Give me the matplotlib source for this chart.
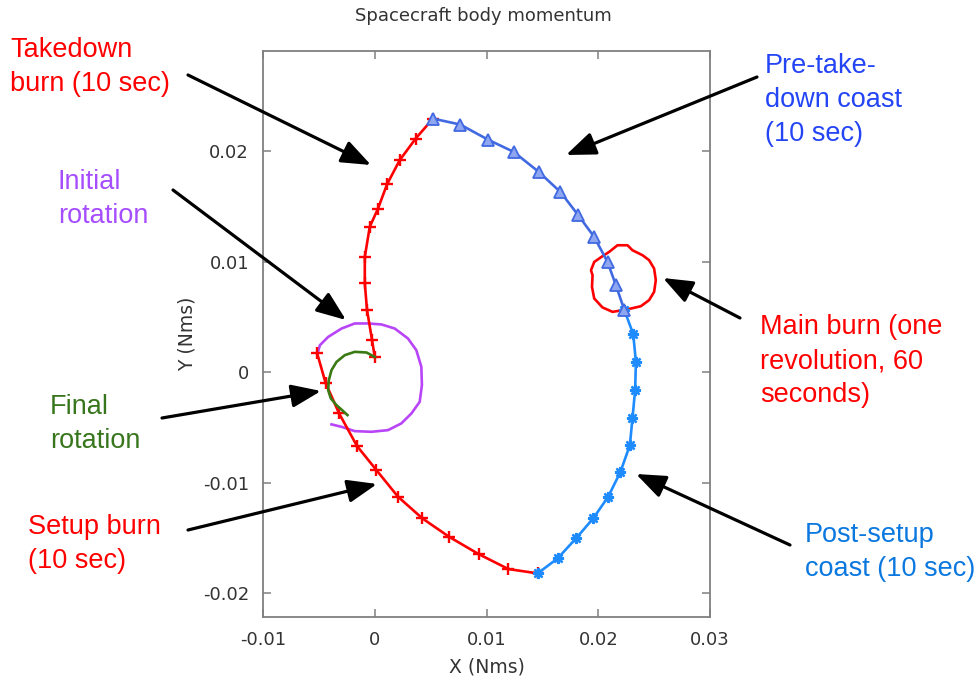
import matplotlib
matplotlib.use("Agg")
import matplotlib.pyplot as plt
from matplotlib.ticker import FixedLocator, FixedFormatter

plt.rcParams['axes.unicode_minus'] = False

# ---- data (Nms) ----
# initial rotation (purple)
init_x = [-0.00387, -0.00297, -0.00179, -0.00029, 0.00119, 0.00238, 0.00328, 0.00402, 0.00422, 0.00417,
          0.00372, 0.00297, 0.00179, 0.0006, -0.0006, -0.00179, -0.00297, -0.00417, -0.00491, -0.00512]
init_y = [-0.00473, -0.00495, -0.00534, -0.0054, -0.00525, -0.00464, -0.00374, -0.00269, -0.00118, 0.00048,
          0.00199, 0.00305, 0.00395, 0.00432, 0.00441, 0.00441, 0.00395, 0.00319, 0.00244, 0.00169]

# setup burn (red +)
setup_x = [-0.00515, -0.0044, -0.00319, -0.00158, 0.00015, 0.00208, 0.00426, 0.00664, 0.00929, 0.01196, 0.01458]
setup_y = [0.00169, -0.00097, -0.00374, -0.0067, -0.00887, -0.01128, -0.01324, -0.0149, -0.01647, -0.01783, -0.01822]

# post-setup coast (blue asterisks)
post_x = [0.01458, 0.01637, 0.01801, 0.01955, 0.02089, 0.02199, 0.02283, 0.02306, 0.0233, 0.02337, 0.02313, 0.02232]
post_y = [-0.01822, -0.01686, -0.01505, -0.01324, -0.01128, -0.00902, -0.00661, -0.00419, -0.00163, 0.00093, 0.00344, 0.00567]

# main burn (red loop)
main_x = [0.02232, 0.02217, 0.02128, 0.02038, 0.01964, 0.01944, 0.01949, 0.01935, 0.01964, 0.02038, 0.02098, 0.02172,
          0.02262, 0.02306, 0.02396, 0.02455, 0.025, 0.02515, 0.025, 0.02455, 0.02381, 0.02292, 0.02232]
main_y = [0.00567, 0.00561, 0.00546, 0.00586, 0.00667, 0.00772, 0.00878, 0.00923, 0.00998, 0.0105, 0.01089, 0.01149,
          0.01149, 0.01104, 0.01059, 0.01014, 0.00938, 0.00833, 0.00727, 0.00652, 0.00597, 0.00576, 0.00567]

# pre-takedown coast (blue triangles)
pre_x = [0.02232, 0.02158, 0.02083, 0.01964, 0.01821, 0.01661, 0.01467, 0.01244, 0.01012, 0.00765, 0.00521]
pre_y = [0.00567, 0.00787, 0.00998, 0.01224, 0.01421, 0.01632, 0.01814, 0.01994, 0.02106, 0.02242, 0.02296]

# takedown burn (red +)
take_x = [0.00521, 0.00366, 0.00223, 0.0011, 0.00029, -0.00045, -0.00089, -0.00089, -0.00069, -0.00024, 0.0]
take_y = [0.02296, 0.02115, 0.01919, 0.01701, 0.01481, 0.01315, 0.01043, 0.00803, 0.00561, 0.0029, 0.00138]

# final rotation (green)
final_x = [0.0, -0.00074, -0.00179, -0.00268, -0.00342, -0.00387, -0.00411, -0.00417, -0.00393, -0.00342, -0.00292, -0.00244]
final_y = [0.00138, 0.00178, 0.00184, 0.00154, 0.00093, 0.00018, -0.00072, -0.00163, -0.00238, -0.00299, -0.00344, -0.00389]

xticks = [-0.01, 0, 0.01, 0.02, 0.03]
xtick_labels = ['-0.01', '0', '0.01', '0.02', '0.03']
yticks = [-0.02, -0.01, 0, 0.01, 0.02]
ytick_labels = ['-0.02', '-0.01', '0', '0.01', '0.02']

RED = '#ff0000'
PURPLE = '#b845f7'
GREEN = '#3a7a14'
TRI = '#4169e1'
AST = '#1e8cff'
LW = 1.9

fig = plt.figure(figsize=(9.77, 6.82), dpi=100)
ax = fig.add_axes([263 / 977, 65 / 682, 447 / 977, 566 / 682])

ax.plot(init_x, init_y, color=PURPLE, lw=LW, zorder=2)
ax.plot(main_x, main_y, color=RED, lw=LW, zorder=2)
ax.plot(setup_x, setup_y, color=RED, lw=LW, marker='+', ms=8, mew=1.7, zorder=3)
ax.plot(post_x, post_y, color=AST, lw=LW, marker=(8, 2, 0), ms=8, mew=1.7, zorder=3)
ax.plot(pre_x, pre_y, color=TRI, lw=LW, marker='^', ms=8, mew=1.3, mfc='#8fa6f0', mec=TRI, zorder=4)
ax.plot(take_x, take_y, color=RED, lw=LW, marker='+', ms=8, mew=1.7, zorder=3)
ax.plot(final_x, final_y, color=GREEN, lw=LW, zorder=3)

ax.set_xlim(-0.01, 0.03)
ax.set_ylim(-0.02217, 0.02908)
ax.xaxis.set_major_locator(FixedLocator(xticks))
ax.xaxis.set_major_formatter(FixedFormatter(xtick_labels))
ax.yaxis.set_major_locator(FixedLocator(yticks))
ax.yaxis.set_major_formatter(FixedFormatter(ytick_labels))
ax.tick_params(direction='in', length=6, width=1.1, color='#808080', labelcolor='#333333',
               labelsize=13, top=True, right=True, pad=10)
for s in ax.spines.values():
    s.set_color('#808080')
    s.set_linewidth(1.3)

ax.set_xlabel('X (Nms)', fontsize=13.5, color='#333333')
ax.xaxis.set_label_coords(0.5, -0.072)
ax.set_ylabel('Y (Nms)', fontsize=13.5, color='#333333')
ax.yaxis.set_label_coords(-0.149, 0.5)
fig.text(483 / 977, 1 - 16 / 682, 'Spacecraft body momentum', fontsize=13, color='#333333',
         ha='center', va='center')

# ---- callouts (figure pixels, y measured from top; ty = top of first line) ----
H = 682
labels = [
    ('Takedown\nburn (10 sec)', RED, 10, 37, (188, 75), (371, 165)),
    ('Initial\nrotation', '#a64dff', 58, 169, (173, 190), (346, 320)),
    ('Final\nrotation', '#38761d', 50, 394, (162, 418), (321, 391)),
    ('Setup burn\n(10 sec)', RED, 28, 514, (188, 530), (377, 484)),
    ('Pre-take-\ndown coast\n(10 sec)', '#2445f5', 765, 53, (757, 77), (566, 155)),
    ('Main burn (one\nrevolution, 60\nseconds)', RED, 760, 314, (740, 318), (663, 278)),
    ('Post-setup\ncoast (10 sec)', '#0b78e0', 805, 522, (790, 545), (636, 474)),
]
for text, col, tx, ty, tail, head in labels:
    fig.text(tx / 977, 1 - ty / H, text, color=col, fontsize=19.5, family='Liberation Sans',
             ha='left', va='top', linespacing=1.4)
    ax.annotate('', xy=(head[0], H - head[1]), xycoords='figure pixels',
                xytext=(tail[0], H - tail[1]), textcoords='figure pixels',
                arrowprops=dict(arrowstyle='-|>,head_length=0.9,head_width=0.35',
                                color='black', lw=2.3, mutation_scale=20, shrinkA=0, shrinkB=0),
                annotation_clip=False)

fig.savefig('out.png', dpi=100)
